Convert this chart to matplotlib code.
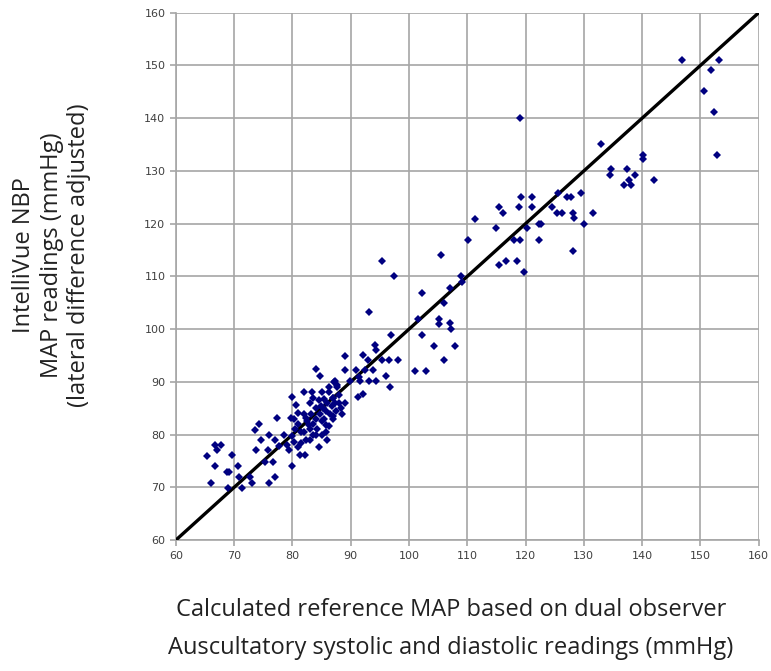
import matplotlib.pyplot as plt

# reference MAP (x) vs IntelliVue NBP MAP (y), mmHg
ref_low = [65.4, 66.7, 67.8, 67.1, 66.7, 66.0, 68.8, 69.1, 69.7, 70.7, 70.9, 68.9,
           71.3, 72.7, 73.0, 73.8, 73.6, 74.2, 74.6, 76.0, 75.9, 75.3, 76.6, 77.1,
           76.0, 77.3, 77.1, 77.7, 78.6, 79.1, 79.4, 79.9, 79.7, 79.9]
nbp_low = [76.0, 78.1, 78.1, 77.0, 74.0, 70.8, 73.0, 73.0, 76.1, 74.0, 72.0, 69.9,
           69.9, 71.9, 70.8, 77.1, 80.9, 82.1, 78.9, 80.0, 77.1, 74.9, 74.9, 72.0,
           70.8, 83.2, 79.0, 77.9, 80.0, 78.1, 77.1, 74.0, 83.2, 87.2]

ref_mid = [80.3, 80.9, 80.0, 81.3, 82.3, 80.6, 80.9, 82.0, 82.3, 82.9, 83.4, 84.0,
           84.7, 84.6, 84.0, 85.7, 85.7, 84.9, 85.4, 86.2, 86.9, 87.1, 87.7, 86.9,
           86.3, 82.1, 81.0, 81.5, 82.0, 82.5, 83.0, 83.0, 83.2, 83.5, 83.5, 84.0,
           84.0, 84.3, 84.5, 84.8, 85.0, 85.0, 85.2, 85.5, 85.8, 86.0, 86.5, 86.8,
           87.0, 87.0, 87.3, 87.5, 88.0, 88.0, 88.3, 83.0, 83.5, 82.0, 81.5, 86.0,
           85.0, 80.5, 80.3, 88.5, 89.0]
nbp_mid = [78.7, 77.7, 79.7, 76.1, 79.0, 85.7, 84.1, 88.0, 83.2, 81.9, 88.0, 92.4,
           91.2, 77.7, 80.0, 80.6, 81.9, 85.4, 86.7, 88.0, 87.0, 89.9, 89.5, 83.5,
           81.6, 76.1, 82.0, 80.5, 84.0, 82.5, 81.0, 86.0, 84.0, 87.0, 82.0, 83.0,
           85.0, 81.0, 86.5, 84.0, 82.5, 88.0, 85.0, 83.0, 84.5, 86.0, 84.0, 85.5,
           87.0, 83.0, 86.0, 84.5, 86.0, 87.5, 85.0, 79.0, 80.0, 80.5, 78.5, 79.0,
           80.0, 81.0, 83.0, 84.0, 86.0]

ref_90s = [87.4, 87.6, 86.2, 89.9, 91.6, 93.2, 94.4, 92.2, 91.2, 89.1, 92.2, 89.1,
           90.9, 92.5, 93.9, 91.4, 93.1, 94.1, 94.3, 93.0, 96.7]
nbp_90s = [90.1, 89.0, 89.0, 90.1, 90.1, 90.1, 90.1, 87.8, 87.1, 94.9, 95.1, 92.2,
           92.2, 92.2, 92.2, 91.0, 103.2, 97.0, 96.1, 94.2, 89.0]

ref_100s = [95.3, 97.4, 102.3, 106.0, 105.5, 108.9, 109.1, 107.0, 110.1, 111.3,
            105.1, 105.1, 107.0, 107.3, 101.6, 102.3, 97.0, 104.3, 107.9, 106.0,
            95.3, 96.6, 98.2, 101.0, 102.9, 96.1]
nbp_100s = [113.0, 110.0, 106.9, 104.9, 114.0, 110.0, 109.0, 107.9, 116.9, 120.9,
            101.9, 101.0, 101.1, 100.0, 101.9, 98.9, 98.9, 96.9, 96.9, 94.2,
            94.2, 94.2, 94.2, 92.1, 92.1, 91.1]

ref_120s = [125.5, 129.5, 127.2, 127.8, 119.3, 121.1, 115.4, 118.9, 121.1, 124.6,
            116.2, 125.4, 126.3, 128.2, 122.3, 122.7, 114.9, 120.2, 118.1, 119.0,
            122.3, 128.2, 115.4, 116.7, 118.5, 119.7, 119.1, 131.5, 128.4, 130.1]
nbp_120s = [125.9, 125.9, 125.0, 125.0, 125.0, 125.0, 123.1, 123.1, 123.1, 123.1,
            122.0, 122.0, 122.0, 122.0, 120.0, 120.0, 119.2, 119.2, 116.9, 116.9,
            116.9, 114.9, 112.2, 113.0, 113.0, 110.9, 140.0, 122.0, 121.0, 120.0]

ref_high = [146.8, 153.2, 151.9, 150.7, 152.4, 152.9, 133.0, 140.1, 140.1, 134.7,
            134.5, 137.4, 138.7, 137.7, 136.9, 138.1, 142.1]
nbp_high = [151.0, 151.0, 149.1, 145.2, 141.1, 133.1, 135.2, 133.1, 132.2, 130.4,
            129.2, 130.4, 129.2, 128.2, 127.3, 127.3, 128.2]

ref_map = ref_low + ref_mid + ref_90s + ref_100s + ref_120s + ref_high
nbp_map = nbp_low + nbp_mid + nbp_90s + nbp_100s + nbp_120s + nbp_high

ticks = list(range(60, 161, 10))

fig = plt.figure(figsize=(7.71, 6.71), dpi=100)
ax = fig.add_axes([0.228, 0.195, 0.756, 0.786])

ax.plot([60, 160], [60, 160], color='black', lw=2.4, zorder=3)
ax.plot(ref_map, nbp_map, 'D', color='#000080', markersize=4.2,
        markeredgewidth=0, zorder=4)

ax.set_xlim(60, 160)
ax.set_ylim(60, 160)
ax.set_xticks(ticks)
ax.set_yticks(ticks)
ax.grid(True, color='#a6a6a6', lw=1.2)
ax.set_axisbelow(True)
for side in ['top', 'right']:
    ax.spines[side].set_visible(False)
for side in ['left', 'bottom']:
    ax.spines[side].set_color('#a6a6a6')
    ax.spines[side].set_linewidth(1.2)
ax.tick_params(colors='#a6a6a6', labelcolor='#404040', labelsize=8,
               length=4, width=1.2)

label_style = dict(fontsize=17, family='Open Sans', color='#222222',
                   ha='center', va='center')
fig.text(0.585, 0.091, 'Calculated reference MAP based on dual observer',
         **label_style)
fig.text(0.585, 0.034, 'Auscultatory systolic and diastolic readings (mmHg)',
         **label_style)
fig.text(0.067, 0.62,
         'IntelliVue NBP\nMAP readings (mmHg)\n(lateral difference adjusted)',
         rotation=90, linespacing=1.2, **label_style)

fig.savefig('out.png', dpi=100)
